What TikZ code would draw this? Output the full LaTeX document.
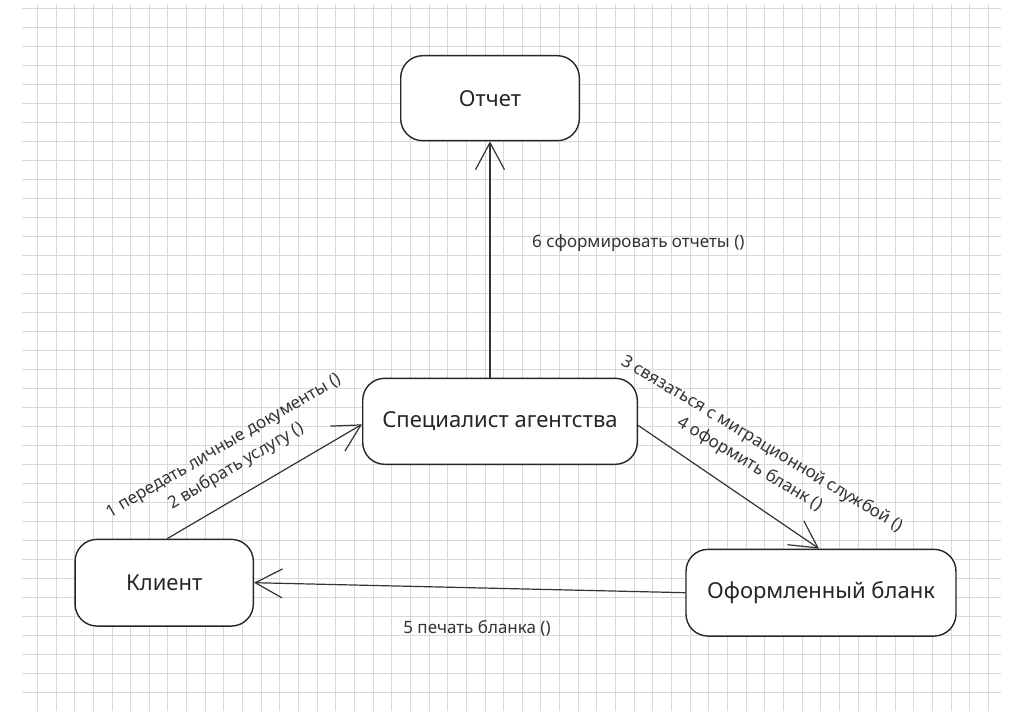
\documentclass[tikz,border=0pt]{standalone}
\usepackage{fontspec}
\setmainfont{Noto Sans}
\usetikzlibrary{arrows.meta}
\begin{document}
\begin{tikzpicture}[x=1pt,y=-1pt,
  state/.style={draw=black!85, line width=1.4pt, rounded corners=22pt, fill=white, inner sep=0pt,
    font=\fontsize{22}{26}\selectfont, text=black!85},
  conn/.style={draw=black!80, line width=1.2pt, -{Straight Barb[length=27pt,width=29pt]}},
  lbl/.style={font=\fontsize{17}{23.5}\selectfont, text=black!80, inner sep=0pt, align=center},
  gridline/.style={draw=gray!30, line width=0.8pt}]
\useasboundingbox (0,0) rectangle (1017,711);
\fill[white] (0,0) rectangle (1017,711);
\foreach \i in {0,...,51} \draw[gridline] ({37.3+18.65*\i},4) -- ({37.3+18.65*\i},711);
\foreach \j in {0,...,36} \draw[gridline] (22,{8.3+19*\j}) -- (1001,{8.3+19*\j});

\node[state, minimum width=178.6pt, minimum height=85pt] (otchet) at (490,98.2) {Отчет};
\node[state, minimum width=274.6pt, minimum height=86pt] (spec) at (500,421.3) {Специалист агентства};
\node[state, minimum width=178.3pt, minimum height=86.7pt] (client) at (164.2,582.7) {Клиент};
\node[state, minimum width=270pt, minimum height=86.7pt] (blank) at (821,592.7) {Оформленный бланк};

\draw[conn] (otchet.south |- spec.north) -- (otchet.south);
\draw[conn] ([xshift=3pt]client.north) -- ([yshift=-3pt]spec.west);
\draw[conn] ([yshift=-4pt]spec.east) -- ([xshift=-2pt]blank.north);
\draw[conn] (blank.west) -- (client.east);

\node[lbl, rotate=30.4] (l12) at (230.4,456.7) {1 передать личные документы ()\\2 выбрать услугу ()};
\node[lbl, rotate=-31] (l34) at (755.9,454.2) {3 связаться с миграционной службой ()\\4 оформить бланк ()};
\node[lbl] (l6) at (638.3,242.7) {6 сформировать отчеты ()};
\node[lbl] (l5) at (477,628.3) {5 печать бланка ()};
\end{tikzpicture}
\end{document}
